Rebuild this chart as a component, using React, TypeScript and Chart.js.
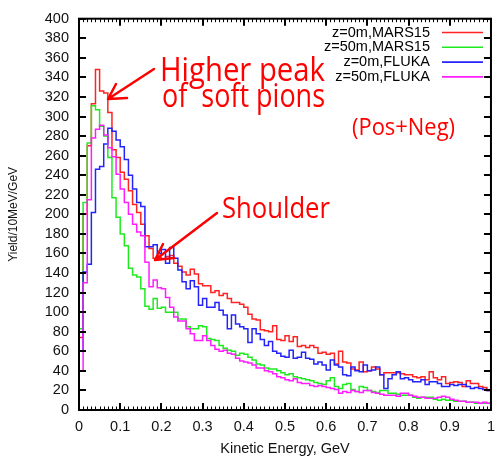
import { useEffect, useRef } from "react";
import { Chart, registerables } from "chart.js";

Chart.register(...registerables);

// Pion yield histograms, 10 MeV bins from 0 to 1 GeV (values in Yield/10MeV/GeV)
const BIN_WIDTH_GEV = 0.01;

const mars0m = [
  74, 200, 270, 313, 348, 326, 324, 304, 266, 258,
  243, 236, 224, 210, 202, 190, 178, 165, 155, 156,
  154, 157, 158, 150, 147, 141, 138, 144, 139, 129,
  127, 127, 120, 122, 117, 119, 114, 110, 110, 108,
  105, 98, 93, 92, 82, 81, 80, 86, 72, 71,
  76, 70, 75, 65, 66, 64, 66, 64, 58, 59,
  57, 58, 47, 60, 49, 48, 42, 41, 49, 39,
  40, 44, 42, 36, 38, 38, 38, 38, 37, 36,
  36, 34, 33, 34, 31, 39, 33, 31, 34, 27,
  28, 29, 28, 24, 30, 27, 27, 24, 23, 20,
];

const mars50m = [
  83, 212, 273, 311, 307, 290, 280, 258, 217, 197,
  180, 168, 145, 138, 136, 124, 106, 103, 114, 104,
  105, 100, 100, 100, 93, 93, 85, 83, 83, 86,
  85, 73, 72, 71, 66, 63, 61, 60, 56, 58,
  57, 54, 51, 47, 46, 43, 42, 42, 40, 38,
  36, 37, 34, 33, 32, 31, 30, 28, 27, 26,
  30, 33, 24, 22, 26, 27, 21, 19, 24, 23,
  20, 19, 18, 20, 20, 17, 17, 16, 15, 15,
  15, 13, 12, 13, 13, 13, 11, 10, 11, 10,
  10, 9, 9, 9, 8, 8, 7, 7, 7, 7,
];

const fluka0m = [
  60, 141, 149, 202, 246, 249, 272, 288, 285, 276,
  269, 256, 240, 226, 212, 208, 167, 167, 169, 160,
  164, 150, 166, 155, 143, 131, 124, 132, 126, 107,
  114, 105, 105, 110, 102, 97, 83, 97, 88, 85,
  83, 69, 83, 78, 72, 66, 70, 60, 58, 55,
  54, 61, 53, 54, 59, 53, 52, 47, 49, 46,
  41, 51, 46, 44, 36, 35, 44, 40, 39, 46,
  40, 41, 44, 36, 22, 32, 36, 39, 32, 33,
  31, 29, 29, 31, 26, 29, 29, 27, 24, 24,
  26, 25, 26, 26, 24, 22, 23, 22, 21, 20,
];

const fluka50m = [
  40, 130, 215, 278, 287, 291, 281, 268, 259, 241,
  226, 212, 200, 190, 182, 178, 151, 126, 133, 125,
  124, 115, 105, 95, 91, 91, 83, 78, 71, 71,
  76, 71, 66, 62, 60, 61, 58, 57, 53, 50,
  49, 48, 46, 43, 43, 40, 39, 37, 34, 33,
  31, 30, 32, 28, 27, 27, 25, 24, 25, 24,
  23, 22, 21, 17, 19, 18, 20, 19, 18, 20,
  20, 18, 17, 16, 15, 15, 15, 14, 17, 17,
  15, 14, 13, 13, 12, 12, 12, 13, 14, 13,
  11, 10, 9, 9, 8, 8, 8, 7, 8, 7,
];

const seriesLabels = ["z=0m,MARS15", "z=50m,MARS15", "z=0m,FLUKA", "z=50m,FLUKA"];
const seriesValues = [mars0m, mars50m, fluka0m, fluka50m];
const seriesColors = ["rgb(255,35,35)", "rgb(30,235,30)", "rgb(35,35,250)", "rgb(255,30,255)"];

const xTicks = [0, 0.1, 0.2, 0.3, 0.4, 0.5, 0.6, 0.7, 0.8, 0.9, 1];
const yMax = 400;
const yStep = 20;

const TICK_FONT = "Liberation Sans, Arial, sans-serif";
const NOTE_FONT = "Open Sans, DejaVu Sans, sans-serif";

// histogram outline: each bin value holds from its left edge to the next edge
function toSteps(values: number[]) {
  const pts = [{ x: 0, y: 0 }];
  values.forEach((v, i) => pts.push({ x: i * BIN_WIDTH_GEV, y: v }));
  pts.push({ x: values.length * BIN_WIDTH_GEV, y: values[values.length - 1] });
  return pts;
}

function fitText(ctx: CanvasRenderingContext2D, text: string, x: number, y: number, width: number) {
  const w = ctx.measureText(text).width;
  ctx.save();
  ctx.translate(x, y);
  ctx.scale(width / w, 1);
  ctx.fillText(text, 0, 0);
  ctx.restore();
}

function arrow(ctx: CanvasRenderingContext2D, from: number[], tip: number[], barbs: number[][]) {
  ctx.beginPath();
  ctx.moveTo(from[0], from[1]);
  ctx.lineTo(tip[0], tip[1]);
  barbs.forEach((b) => {
    ctx.moveTo(tip[0], tip[1]);
    ctx.lineTo(b[0], b[1]);
  });
  ctx.stroke();
}

const framePlugin = {
  id: "frameTicks",
  afterDatasetsDraw(chart: Chart) {
    const { ctx, chartArea } = chart;
    const { left, right, top, bottom } = chartArea;
    const xs = chart.scales.x;
    const ys = chart.scales.y;
    ctx.save();
    ctx.strokeStyle = "#000";
    ctx.lineWidth = 2;
    ctx.strokeRect(left, top, right - left, bottom - top);

    ctx.beginPath();
    for (let v = 0; v <= yMax; v += yStep) {
      const py = Math.round(ys.getPixelForValue(v));
      ctx.moveTo(left, py);
      ctx.lineTo(left + 7, py);
      ctx.moveTo(right, py);
      ctx.lineTo(right - 7, py);
    }
    xTicks.forEach((t) => {
      const px = Math.round(xs.getPixelForValue(t));
      ctx.moveTo(px, bottom);
      ctx.lineTo(px, bottom - 7);
      ctx.moveTo(px, top);
      ctx.lineTo(px, top + 7);
    });
    ctx.stroke();

    ctx.lineWidth = 1;
    ctx.beginPath();
    for (let i = 1; i < 100; i++) {
      if (i % 10 === 0) continue;
      const px = Math.round(xs.getPixelForValue(i * BIN_WIDTH_GEV)) + 0.5;
      ctx.moveTo(px, bottom);
      ctx.lineTo(px, bottom - 3.5);
      ctx.moveTo(px, top);
      ctx.lineTo(px, top + 3.5);
    }
    ctx.stroke();
    ctx.restore();
  },
  afterDraw(chart: Chart) {
    const { ctx } = chart;
    ctx.save();
    // legend: label right-aligned, sample line to its right
    ctx.font = `14.5px ${TICK_FONT}`;
    ctx.textAlign = "right";
    ctx.textBaseline = "middle";
    chart.data.datasets.forEach((ds, i) => {
      const yRow = 32.5 + i * 14.8;
      ctx.fillStyle = "#000";
      ctx.fillText(String(ds.label), 430, yRow);
      ctx.strokeStyle = String(ds.borderColor);
      ctx.lineWidth = 1.6;
      ctx.beginPath();
      ctx.moveTo(442, yRow);
      ctx.lineTo(483, yRow);
      ctx.stroke();
    });

    // annotations
    ctx.fillStyle = "rgb(255,0,0)";
    ctx.strokeStyle = "rgb(255,0,0)";
    ctx.textAlign = "left";
    ctx.textBaseline = "alphabetic";
    ctx.font = `33px ${NOTE_FONT}`;
    fitText(ctx, "Higher peak", 160, 81, 165);
    fitText(ctx, "of  soft pions", 162, 107, 163);
    ctx.font = `30px ${NOTE_FONT}`;
    fitText(ctx, "Shoulder", 222, 218, 108);
    ctx.font = `23px ${NOTE_FONT}`;
    fitText(ctx, "(Pos+Neg)", 352, 135, 103);

    ctx.lineWidth = 2.5;
    ctx.lineCap = "round";
    arrow(ctx, [154, 69], [108, 99], [[116, 84], [127, 98]]);
    arrow(ctx, [217, 213], [155, 260], [[163, 244], [174, 258]]);
    ctx.restore();
  },
};

export default function App() {
  const canvasRef = useRef<HTMLCanvasElement | null>(null);

  useEffect(() => {
    const canvas = canvasRef.current;
    if (!canvas) return;
    const chart = new Chart(canvas, {
      type: "line",
      data: {
        datasets: seriesValues.map((vals, i) => ({
          label: seriesLabels[i],
          data: toSteps(vals),
          borderColor: seriesColors[i],
          backgroundColor: seriesColors[i],
          borderWidth: 1.5,
          pointRadius: 0,
          stepped: "before" as const,
          fill: false,
          order: seriesValues.length - i,
        })),
      },
      options: {
        animation: false,
        responsive: false,
        maintainAspectRatio: false,
        layout: { padding: { left: 0, right: 3, top: 17, bottom: 0 } },
        plugins: {
          legend: { display: false },
          tooltip: { enabled: false },
        },
        scales: {
          x: {
            type: "linear",
            min: 0,
            max: 1,
            afterFit: (s: any) => {
              s.height = 46;
            },
            afterBuildTicks: (s: any) => {
              s.ticks = xTicks.map((v) => ({ value: v }));
            },
            grid: { display: false, drawTicks: false },
            border: { display: false },
            ticks: {
              autoSkip: false,
              maxRotation: 0,
              padding: 8,
              color: "#111",
              font: { family: TICK_FONT, size: 14.5 },
              callback: (v: any) => String(Math.round(Number(v) * 10) / 10),
            },
            title: {
              display: true,
              text: "Kinetic Energy, GeV",
              color: "#111",
              font: { family: TICK_FONT, size: 14.5, lineHeight: 1 },
              padding: { top: 0, bottom: 0 },
            },
          },
          y: {
            type: "linear",
            min: 0,
            max: yMax,
            afterFit: (s: any) => {
              s.width = 79;
            },
            grid: { display: false, drawTicks: false },
            border: { display: false },
            ticks: {
              stepSize: yStep,
              autoSkip: false,
              padding: 10,
              color: "#111",
              font: { family: TICK_FONT, size: 14.5 },
            },
            title: {
              display: true,
              text: "Yield/10MeV/GeV",
              color: "#111",
              font: { family: TICK_FONT, size: 12, lineHeight: 1 },
              padding: { top: 8, bottom: 0 },
            },
          },
        },
      },
      plugins: [framePlugin],
    });
    return () => chart.destroy();
  }, []);

  return (
    <div style={{ position: "fixed", left: 0, top: 0, width: 503, height: 456, background: "#fff" }}>
      <canvas ref={canvasRef} width={503} height={456} style={{ display: "block" }} />
    </div>
  );
}
